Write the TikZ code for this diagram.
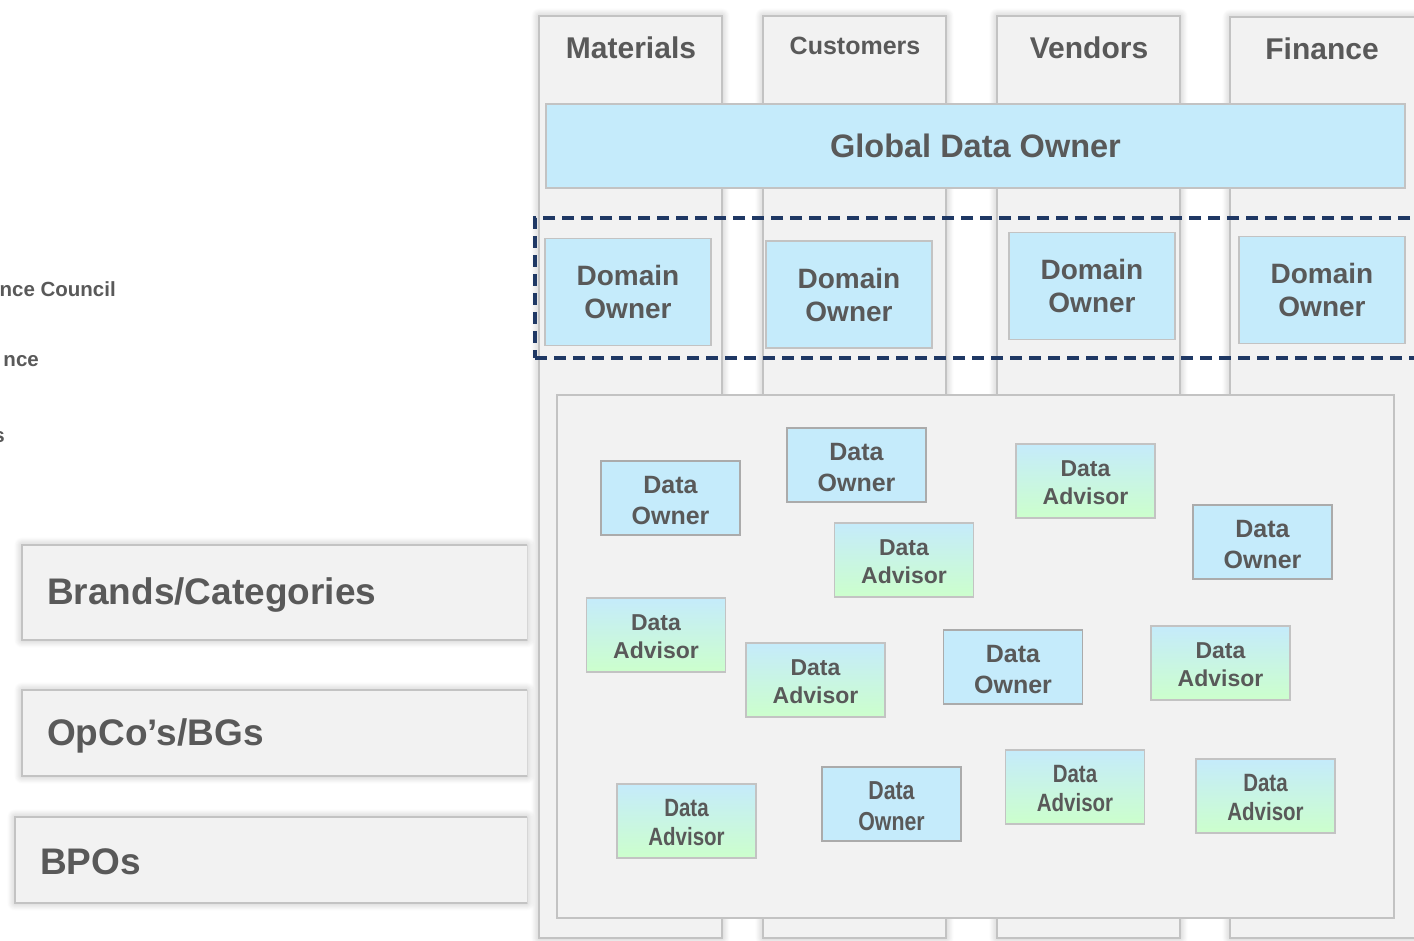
\documentclass[tikz,border=0pt]{standalone}
\usepackage{fontspec}
\usepackage{graphicx}
\setmainfont{Liberation Sans}
\usetikzlibrary{shadows.blur}
\definecolor{txt}{HTML}{595959}
\definecolor{panel}{HTML}{F2F2F2}
\definecolor{rimgray}{HTML}{C3C3C3}
\definecolor{boxrim}{HTML}{ABABAB}
\definecolor{sky}{HTML}{C5EBFB}
\definecolor{mint}{HTML}{CCFFCC}
\definecolor{navy}{HTML}{1F3864}

\begin{document}
\begin{tikzpicture}[x=1pt,y=-1pt,
  soft/.style={blur shadow={shadow xshift=0pt,shadow yshift=0pt,shadow blur radius=8pt,shadow opacity=28,shadow blur steps=12}},
  column/.style={fill=panel,draw=rimgray,line width=1.3pt,soft},
  rowfill/.style={fill=panel,soft},
  rim/.style={draw=rimgray,line width=1.3pt},
  head/.style={text=txt,font=\bfseries\fontsize{30}{36}\selectfont},
  rowtxt/.style={text=txt,font=\bfseries\fontsize{37}{44}\selectfont,anchor=west,inner sep=0pt},
  sidetxt/.style={text=txt,font=\bfseries\fontsize{20.5}{24}\selectfont,anchor=east,inner sep=0pt},
  bluebox/.style={fill=sky,draw=rimgray,line width=1.3pt,align=center,text=txt},
  domainbox/.style={bluebox,minimum width=166pt,minimum height=107pt,inner sep=0pt,
    font=\bfseries\fontsize{28}{33}\selectfont},
  databox/.style={draw=boxrim,line width=1.6pt,align=center,text=txt,inner sep=0pt,
    minimum width=139pt,minimum height=74pt},
  ownerbox/.style={databox,fill=sky,font=\bfseries\fontsize{25}{31}\selectfont},
  advisorbox/.style={databox,top color=sky,bottom color=mint,draw=rimgray,font=\bfseries\fontsize{23}{28}\selectfont},
  narrowowner/.style={ownerbox,font=\bfseries\fontsize{26}{31}\selectfont},
  narrowadvisor/.style={advisorbox,font=\bfseries\fontsize{25}{29}\selectfont},
  band/.style={draw=navy,line width=3.5pt,dash pattern=on 12pt off 7pt}
]
\useasboundingbox (0,0) rectangle (1414,940);
\clip (0,0) rectangle (1414,940);

% partially visible side labels
\node[sidetxt] (council) at (116,289) {nce Council};
\node[sidetxt] (governance) at (39,361) {nce};
\node[sidetxt] (stewards) at (5,437) {s};

% horizontal rows on the left
\path[rowfill] (22,545) rectangle (527,640);
\draw[rim] (527,545) -- (22,545) -- (22,640) -- (527,640);
\node[rowtxt] (brands) at (47,595) {Brands/Categories};

\path[rowfill] (22,690) rectangle (527,776);
\draw[rim] (527,690) -- (22,690) -- (22,776) -- (527,776);
\node[rowtxt] (opcos) at (47,736) {OpCo’s/BGs};

\path[rowfill] (15,817) rectangle (527,903);
\draw[rim] (527,817) -- (15,817) -- (15,903) -- (527,903);
\node[rowtxt] (bpos) at (40,862) {BPOs};

% domain columns
\path[column] (539,16) rectangle (722,938);
\path[column] (763,16) rectangle (946,938);
\path[column] (997,16) rectangle (1180,938);
\path[column] (1230,17) rectangle (1424,938);
\node[head] (materials) at (631,48) {Materials};
\node[head,font=\bfseries\fontsize{25}{30}\selectfont] (customers) at (855,46) {Customers};
\node[head] (vendors) at (1089,48) {Vendors};
\node[head] (finance) at (1322,49) {Finance};

% global owner
\node[bluebox,minimum width=859pt,minimum height=84pt,font=\bfseries\fontsize{32.5}{38}\selectfont]
  (global) at (975.5,146) {Global Data Owner};

% domain owners inside the dashed band
\node[band,minimum width=890pt,minimum height=140pt,inner sep=0pt] (domainband) at (980,288) {};
\node[domainbox] (dom1) at (628,292) {Domain\\Owner};
\node[domainbox] (dom2) at (849,294.5) {Domain\\Owner};
\node[domainbox] (dom3) at (1092,286) {Domain\\Owner};
\node[domainbox] (dom4) at (1322,290) {Domain\\Owner};

% pool of data owners and advisors
\node[fill=panel,draw=rimgray,line width=1.3pt,minimum width=837pt,minimum height=523pt,inner sep=0pt]
  (pool) at (975.5,656.5) {};

\node[ownerbox] (own1) at (670.5,498) {\strut Data\\Owner};
\node[ownerbox] (own2) at (856.5,465) {\strut Data\\Owner};
\node[advisorbox] (adv1) at (1085.5,481) {\strut Data\\Advisor};
\node[advisorbox] (adv2) at (904,560) {\strut Data\\Advisor};
\node[ownerbox] (own3) at (1262.5,542) {\strut Data\\Owner};
\node[advisorbox] (adv3) at (656,635) {\strut Data\\Advisor};
\node[advisorbox] (adv4) at (815.5,680) {\strut Data\\Advisor};
\node[ownerbox] (own4) at (1013,667) {\strut Data\\Owner};
\node[advisorbox] (adv5) at (1220.5,663) {\strut Data\\Advisor};
\node[narrowadvisor] (adv6) at (686.5,821) {\strut\scalebox{0.82}[1]{Data}\\\scalebox{0.82}[1]{Advisor}};
\node[narrowowner] (own5) at (891.5,804) {\strut\scalebox{0.82}[1]{Data}\\\scalebox{0.82}[1]{Owner}};
\node[narrowadvisor] (adv7) at (1075,787) {\strut\scalebox{0.82}[1]{Data}\\\scalebox{0.82}[1]{Advisor}};
\node[narrowadvisor] (adv8) at (1265.5,796) {\strut\scalebox{0.82}[1]{Data}\\\scalebox{0.82}[1]{Advisor}};
\end{tikzpicture}
\end{document}
